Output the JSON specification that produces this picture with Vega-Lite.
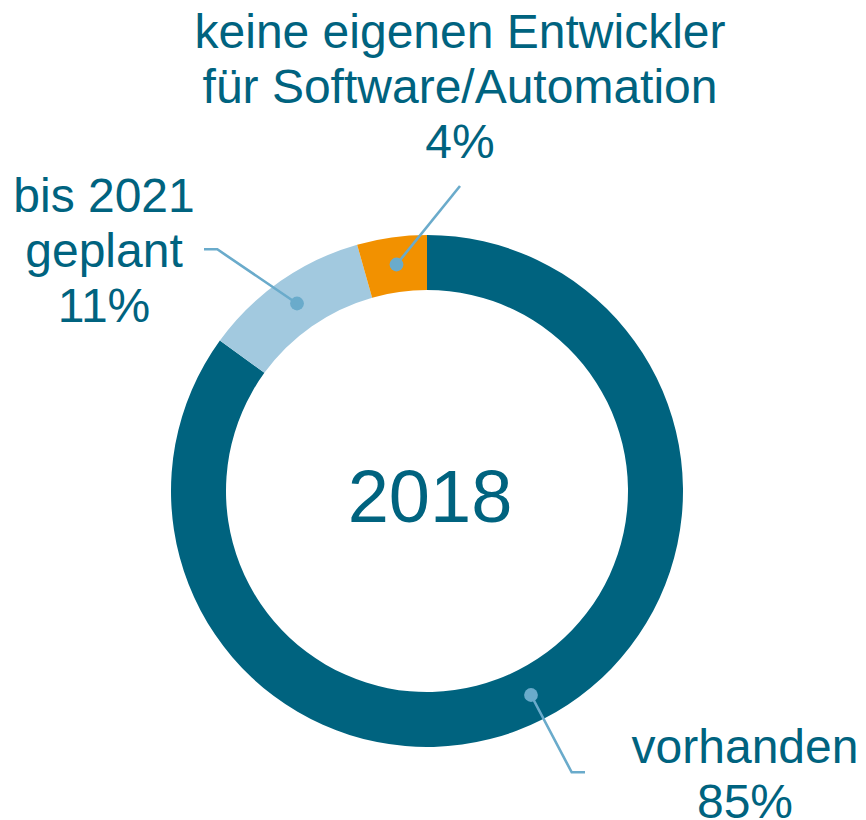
{
  "$schema": "https://vega.github.io/schema/vega-lite/v6.json",
  "width": 512,
  "height": 512,
  "autosize": {"type": "none"},
  "padding": {"left": 171, "top": 235, "right": 183, "bottom": 73},
  "background": "white",
  "config": {"view": {"stroke": null}},
  "layer": [
    {
      "data": {"values": [
        {"category": "vorhanden", "value": 85.0},
        {"category": "bis 2021 geplant", "value": 10.6},
        {"category": "keine eigenen Entwickler für Software/Automation", "value": 4.4}
      ]},
      "mark": {"type": "arc", "outerRadius": 256, "innerRadius": 201},
      "encoding": {
        "theta": {"field": "value", "type": "quantitative", "stack": true},
        "order": {"field": "value", "type": "quantitative", "sort": "descending"},
        "color": {
          "field": "category", "type": "nominal", "legend": null,
          "scale": {
            "domain": ["vorhanden", "bis 2021 geplant", "keine eigenen Entwickler für Software/Automation"],
            "range": ["#00637F", "#A2C9DF", "#F29100"]
          }
        }
      }
    },
    {
      "data": {"values": [
        {"callout": "keine", "seq": 1, "x": -30.5, "y": 226.5},
        {"callout": "keine", "seq": 2, "x": 33, "y": 305},
        {"callout": "geplant", "seq": 1, "x": -130, "y": 187.5},
        {"callout": "geplant", "seq": 2, "x": -209.7, "y": 241.7},
        {"callout": "geplant", "seq": 3, "x": -223, "y": 241.7},
        {"callout": "vorhanden", "seq": 1, "x": 104, "y": -204},
        {"callout": "vorhanden", "seq": 2, "x": 144.7, "y": -281.3},
        {"callout": "vorhanden", "seq": 3, "x": 158, "y": -281.3}
      ]},
      "mark": {"type": "line", "color": "#6AABCB", "strokeWidth": 2.6},
      "encoding": {
        "x": {"field": "x", "type": "quantitative", "scale": {"domain": [-256, 256]}, "axis": null},
        "y": {"field": "y", "type": "quantitative", "scale": {"domain": [-256, 256]}, "axis": null},
        "detail": {"field": "callout", "type": "nominal"},
        "order": {"field": "seq", "type": "quantitative"}
      }
    },
    {
      "data": {"values": [
        {"callout": "keine", "x": -30.5, "y": 226.5},
        {"callout": "geplant", "x": -130, "y": 187.5},
        {"callout": "vorhanden", "x": 104, "y": -204}
      ]},
      "mark": {"type": "point", "shape": "circle", "filled": true, "size": 190, "color": "#6AABCB", "opacity": 1},
      "encoding": {
        "x": {"field": "x", "type": "quantitative", "scale": {"domain": [-256, 256]}, "axis": null},
        "y": {"field": "y", "type": "quantitative", "scale": {"domain": [-256, 256]}, "axis": null}
      }
    },
    {
      "data": {"values": [
        {"label": "keine eigenen Entwickler\nfür Software/Automation\n4%", "x": 33, "y": 442.7},
        {"label": "bis 2021\ngeplant\n11%", "x": -323, "y": 279},
        {"label": "vorhanden\n85%", "x": 318, "y": -272}
      ]},
      "mark": {"type": "text", "font": "Liberation Sans", "fontSize": 48, "lineHeight": 55, "lineBreak": "\n", "align": "center", "baseline": "alphabetic", "color": "#00637F"},
      "encoding": {
        "x": {"field": "x", "type": "quantitative", "scale": {"domain": [-256, 256]}, "axis": null},
        "y": {"field": "y", "type": "quantitative", "scale": {"domain": [-256, 256]}, "axis": null},
        "text": {"field": "label", "type": "nominal"}
      }
    },
    {
      "data": {"values": [{"label": "2018", "x": 3, "y": -30.7}]},
      "mark": {"type": "text", "font": "Liberation Sans", "fontSize": 74, "align": "center", "baseline": "alphabetic", "color": "#00637F"},
      "encoding": {
        "x": {"field": "x", "type": "quantitative", "scale": {"domain": [-256, 256]}, "axis": null},
        "y": {"field": "y", "type": "quantitative", "scale": {"domain": [-256, 256]}, "axis": null},
        "text": {"field": "label", "type": "nominal"}
      }
    }
  ]
}
